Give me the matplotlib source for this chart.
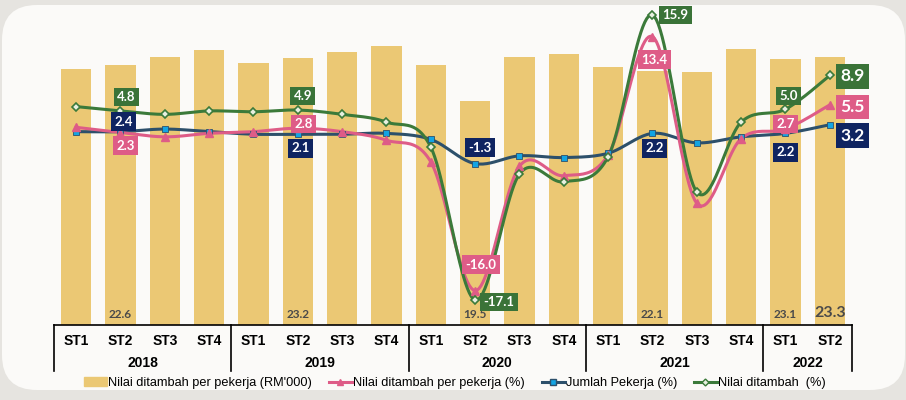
import numpy as np
import matplotlib
matplotlib.use("Agg")
import matplotlib.pyplot as plt
from matplotlib.patches import FancyBboxPatch, Patch
from matplotlib.lines import Line2D
from matplotlib.transforms import blended_transform_factory

# data
quarters = ['ST1', 'ST2', 'ST3', 'ST4'] * 4 + ['ST1', 'ST2']
years = ['2018', '2019', '2020', '2021', '2022']
year_sizes = [4, 4, 4, 4, 2]

va_per_worker_rm = [22.3, 22.6, 23.3, 23.9, 22.8, 23.2, 23.7, 24.3, 22.6, 19.5,
                    23.3, 23.6, 22.4, 22.1, 22.0, 24.0, 23.1, 23.3]
va_per_worker_pct = [2.9, 2.3, 1.8, 2.2, 2.4, 2.8, 2.4, 1.4, -1.1, -16.0,
                     -1.6, -2.7, -0.3, 13.4, -5.9, 1.6, 2.7, 5.5]
workers_pct = [2.4, 2.4, 2.7, 2.4, 2.1, 2.1, 2.1, 2.2, 1.5, -1.3,
               -0.4, -0.6, -0.1, 2.2, 1.1, 1.8, 2.2, 3.2]
va_pct = [5.3, 4.8, 4.4, 4.8, 4.7, 4.9, 4.4, 3.5, 0.6, -17.1,
          -2.5, -3.4, -0.5, 15.9, -4.6, 3.5, 5.0, 8.9]

bar_label_idx = [1, 5, 9, 13, 16, 17]

c_bar = '#ebc874'
c_pink = '#de5c87'
c_blue = '#2d506b'
c_blue_mk = '#13a4e3'
c_navy = '#0f2461'
c_green = '#3b7a3a'
c_green_box = '#3a7338'


def smooth(y, n=24):
    # excel-style bezier smoothing
    pts = np.column_stack([np.arange(len(y)), y]).astype(float)
    out = []
    for i in range(len(pts) - 1):
        p0 = pts[max(i - 1, 0)]
        p1 = pts[i]
        p2 = pts[i + 1]
        p3 = pts[min(i + 2, len(pts) - 1)]
        c1 = p1 + (p2 - p0) / 6
        c2 = p2 - (p3 - p1) / 6
        t = np.linspace(0, 1, n)[:, None]
        seg = ((1 - t) ** 3) * p1 + 3 * ((1 - t) ** 2) * t * c1 + 3 * (1 - t) * t ** 2 * c2 + t ** 3 * p2
        out.append(seg if i == 0 else seg[1:])
    out = np.vstack(out)
    return out[:, 0], out[:, 1]


fig = plt.figure(figsize=(9.06, 4.0), dpi=100)
fig.patch.set_facecolor('#e6e4e0')
panel = FancyBboxPatch((0.02, 0.10), 9.03, 3.85, boxstyle='round,pad=0,rounding_size=0.35',
                       transform=fig.dpi_scale_trans, fc='#fbfaf8', ec='none', zorder=-10)
fig.patches.append(panel)

ax = fig.add_axes([54 / 906, 75 / 400, 798 / 906, 315 / 400])
ax.set_axis_off()
x = np.arange(len(quarters))
ax.bar(x, va_per_worker_rm, width=0.68, color=c_bar, zorder=1)
ax.set_xlim(-0.5, 17.5)
ax.set_ylim(0, 27.39)

for i in bar_label_idx:
    big = i == 17
    ax.annotate(f'{va_per_worker_rm[i]:.1f}', (x[i], 0), xytext=(0, 12 if big else 10),
                textcoords='offset pixels', ha='center', va='center',
                fontsize=11.5 if big else 8.5, fontweight='bold', color='#4a4a4a', family='Lato')

# category table under the bars
trans = blended_transform_factory(ax.transData, ax.transAxes)
ax.plot([-0.5, 17.5], [0, 0], color='black', lw=1.2, transform=trans, clip_on=False)
start = -0.5
for yr, n in zip(years, year_sizes):
    ax.plot([start, start], [0, -0.146], color='black', lw=1.2, transform=trans, clip_on=False)
    ax.text(start + n / 2, -0.1206, yr, transform=trans, ha='center', va='center',
            fontsize=10, fontweight='bold', family='Liberation Sans')
    start += n
ax.plot([start, start], [0, -0.146], color='black', lw=1.2, transform=trans, clip_on=False)
for i, q in enumerate(quarters):
    ax.text(i, -0.0508, q, transform=trans, ha='center', va='center',
            fontsize=10, fontweight='bold', family='Liberation Sans')

ax2 = ax.twinx()
ax2.set_axis_off()
ax2.set_ylim(-19.98, 16.48)

sx, sy = smooth(workers_pct)
ax2.plot(sx, sy, color=c_blue, lw=2.2, zorder=3)
ax2.plot(x, workers_pct, 's', ms=5, mfc=c_blue_mk, mec=c_blue, mew=0.6, zorder=4)

sx, sy = smooth(va_per_worker_pct)
ax2.plot(sx, sy, color=c_pink, lw=2.2, zorder=3)
ax2.plot(x, va_per_worker_pct, '^', ms=6, color=c_pink, zorder=4)

sx, sy = smooth(va_pct)
ax2.plot(sx, sy, color=c_green, lw=2.2, zorder=3)
ax2.plot(x, va_pct, 'D', ms=4, mfc='#e8f0e0', mec=c_green, mew=1.2, zorder=4)

# data labels: (series, colour, index, dx, dy, big)
labels = [
    (va_pct, c_green_box, 1, 6, 14, False),
    (workers_pct, c_navy, 1, 3, 10, False),
    (va_per_worker_pct, c_pink, 1, 5, -13, False),
    (va_pct, c_green_box, 5, 5, 14, False),
    (va_per_worker_pct, c_pink, 5, 6, 4, False),
    (workers_pct, c_navy, 5, 3, -14, False),
    (workers_pct, c_navy, 9, 5, 16, False),
    (va_per_worker_pct, c_pink, 9, 6, 26, False),
    (va_pct, c_green_box, 9, 24, -2, False),
    (va_pct, c_green_box, 13, 23, 0, False),
    (va_per_worker_pct, c_pink, 13, 2, -23, False),
    (workers_pct, c_navy, 13, 2, -15, False),
    (va_pct, c_green_box, 16, 3, 13, False),
    (va_per_worker_pct, c_pink, 16, 0, 5, False),
    (workers_pct, c_navy, 16, 0, -19, False),
    (va_pct, c_green_box, 17, 23, -1, True),
    (va_per_worker_pct, c_pink, 17, 23, -2, True),
    (workers_pct, c_navy, 17, 23, -11, True),
]
for ser, col, i, dx, dy, big in labels:
    ax2.annotate(f'{ser[i]:.1f}', (x[i], ser[i]), xytext=(dx, dy), textcoords='offset pixels',
                 ha='center', va='center', color='white', fontweight='bold', family='Lato',
                 fontsize=12.5 if big else 9.5, zorder=6,
                 bbox=dict(boxstyle='square,pad=0.25', fc=col, ec='none'))

handles = [
    Patch(color=c_bar),
    Line2D([], [], color=c_pink, lw=2.2, marker='^', ms=5),
    Line2D([], [], color=c_blue, lw=2.2, marker='s', ms=4, mfc=c_blue_mk, mec=c_blue),
    Line2D([], [], color=c_green, lw=2.2, marker='D', ms=3.5, mfc='#e8f0e0', mec=c_green),
]
names = ["Nilai ditambah per pekerja (RM'000)", 'Nilai ditambah per pekerja (%)',
         'Jumlah Pekerja (%)', 'Nilai ditambah  (%)']
fig.legend(handles, names, loc='center', bbox_to_anchor=(455 / 906, 1 - 383 / 400), ncol=4,
           frameon=False, prop={'family': 'Liberation Sans', 'size': 9.2},
           handlelength=1.8, handletextpad=0.1, columnspacing=1.3)

fig.savefig('out.png', dpi=100, facecolor=fig.get_facecolor())
